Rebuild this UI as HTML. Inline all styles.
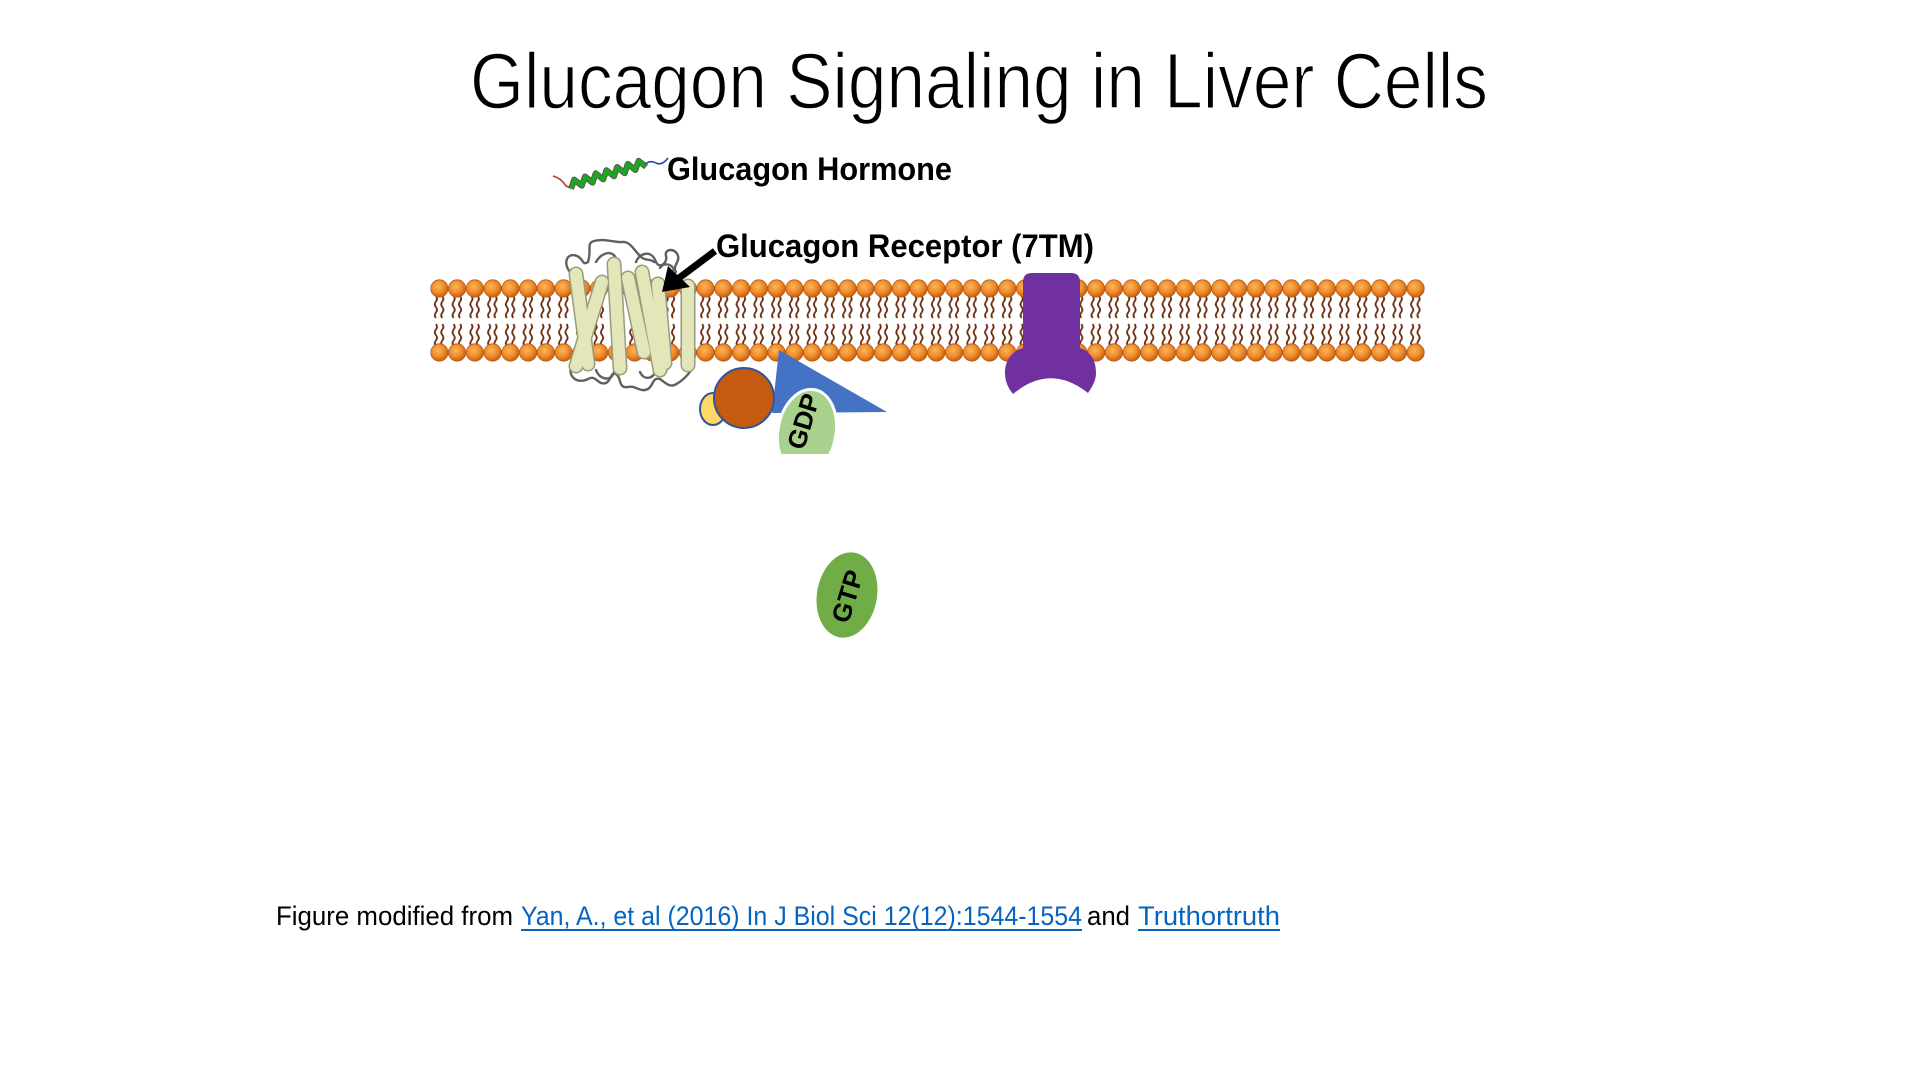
<!DOCTYPE html>
<html>
<head>
<meta charset="utf-8">
<style>
  html,body{margin:0;padding:0;background:#fff;}
  body{width:1920px;height:1080px;overflow:hidden;}
  svg{display:block;}
  text{font-family:"Liberation Sans", sans-serif;}
</style>
</head>
<body>
<svg width="1920" height="1080" viewBox="0 0 1920 1080" xmlns="http://www.w3.org/2000/svg">
  <defs>
    <radialGradient id="hg" cx="0.42" cy="0.38" r="0.62">
      <stop offset="0" stop-color="#FDB55A"/>
      <stop offset="0.6" stop-color="#EE8A2A"/>
      <stop offset="1" stop-color="#C45F14"/>
    </radialGradient>
    <pattern id="lip" x="430.5" y="0" width="17.75" height="1080" patternUnits="userSpaceOnUse">
      <path d="M5.4 296 q2.2 2.75 0 5.5 t0 5.5 t0 5.5 t0 5.5" stroke="#6b2a0c" stroke-width="1.8" fill="none"/>
      <path d="M11.8 296 q2.2 2.75 0 5.5 t0 5.5 t0 5.5 t0 5.5" stroke="#6b2a0c" stroke-width="1.8" fill="none"/>
      <path d="M5.4 324 q2.2 2.75 0 5.5 t0 5.5 t0 5.5 t0 5.5" stroke="#6b2a0c" stroke-width="1.8" fill="none"/>
      <path d="M11.8 324 q2.2 2.75 0 5.5 t0 5.5 t0 5.5 t0 5.5" stroke="#6b2a0c" stroke-width="1.8" fill="none"/>
      <circle cx="8.87" cy="288.5" r="8.7" fill="url(#hg)" stroke="#B85A14" stroke-width="0.8"/>
      <circle cx="8.87" cy="352.5" r="8.7" fill="url(#hg)" stroke="#B85A14" stroke-width="0.8"/>
    </pattern>
    <clipPath id="gdpclip"><rect x="700" y="330" width="200" height="124"/></clipPath>
  </defs>

  <!-- Title -->
  <text x="470" y="108" font-size="79" textLength="1018" lengthAdjust="spacingAndGlyphs" fill="#000" stroke="#fff" stroke-width="1.4">Glucagon Signaling in Liver Cells</text>

  <!-- Hormone -->
  <path d="M553,176 Q561,178 566,186 L571,188" stroke="#b8322a" stroke-width="1.5" fill="none"/>
  <polyline points="571.1,188.8 574.2,179.6 581.8,185.7 585.0,176.5 592.6,182.6 595.7,173.3 603.3,179.4 606.4,170.2 614.0,176.3 617.1,167.0 624.7,173.2 627.8,163.9 635.4,170.0 638.6,160.8 646.1,166.8" stroke="#555" stroke-width="6" fill="none" stroke-linejoin="round"/>
  <polyline points="571.1,188.8 574.2,179.6 581.8,185.7 585.0,176.5 592.6,182.6 595.7,173.3 603.3,179.4 606.4,170.2 614.0,176.3 617.1,167.0 624.7,173.2 627.8,163.9 635.4,170.0 638.6,160.8 646.1,166.8" stroke="#1FA51F" stroke-width="4.2" fill="none" stroke-linejoin="round"/>
  <path d="M645,164 Q651,160 656,163 Q662,166 668,158" stroke="#3340b0" stroke-width="1.6" fill="none"/>
  <text x="667" y="180" font-size="32" font-weight="bold" textLength="285" lengthAdjust="spacingAndGlyphs" fill="#000">Glucagon Hormone</text>

  <!-- Receptor label -->
  <text x="716" y="257" font-size="32" font-weight="bold" textLength="378" lengthAdjust="spacingAndGlyphs" fill="#000">Glucagon Receptor (7TM)</text>

  <!-- Membrane -->
  <rect x="430.5" y="278" width="994" height="84" fill="url(#lip)"/>

  <!-- Receptor (7TM) -->
  <g fill="none" stroke="#606060" stroke-width="2.4" stroke-linecap="round" stroke-linejoin="round">
    <path d="M570,272 C562,262 568,252 577,256 C584,259 582,266 588,262 C592,250 586,243 594,241 C604,238 616,243 622,242 C630,241 634,250 640,256 C646,262 650,258 654,262"/>
    <path d="M596,262 C602,252 612,250 616,258"/>
    <path d="M636,262 C640,252 652,250 656,262 C660,270 668,262 666,256 C664,248 676,248 678,256 C680,262 672,266 676,272"/>
    <path d="M660,268 C664,262 672,264 674,270"/>
    <path d="M571,366 C568,378 578,384 588,379 C596,374 598,386 606,383 C612,380 610,372 616,374 C622,378 618,389 628,387 C636,385 640,393 648,389 C654,385 652,377 660,379 C666,383 670,389 678,383 C686,378 690,372 694,366"/>
    <path d="M596,370 C600,381 612,381 614,372"/>
    <path d="M640,372 C644,381 654,379 656,370"/>
  </g>
  <g stroke-linecap="round">
    <g stroke="#9a9a7c" stroke-width="15">
      <line x1="576" y1="274" x2="588" y2="364"/>
      <line x1="602" y1="282" x2="576" y2="366"/>
      <line x1="614" y1="264" x2="620" y2="368"/>
      <line x1="628" y1="278" x2="644" y2="352"/>
      <line x1="642" y1="272" x2="660" y2="370"/>
      <line x1="658" y1="284" x2="665" y2="363"/>
      <line x1="688" y1="286" x2="688" y2="365"/>
    </g>
    <g stroke="#E2E6B8" stroke-width="12">
      <line x1="576" y1="274" x2="588" y2="364"/>
      <line x1="602" y1="282" x2="576" y2="366"/>
      <line x1="614" y1="264" x2="620" y2="368"/>
      <line x1="628" y1="278" x2="644" y2="352"/>
      <line x1="642" y1="272" x2="660" y2="370"/>
      <line x1="658" y1="284" x2="665" y2="363"/>
      <line x1="688" y1="286" x2="688" y2="365"/>
    </g>
  </g>

  <!-- Arrow -->
  <line x1="715" y1="251" x2="679" y2="278" stroke="#000" stroke-width="7"/>
  <polygon points="662,292 668,266 690,287" fill="#000"/>

  <!-- Purple effector -->
  <path d="M1023,282 Q1023,273 1032,273 L1071,273 Q1080,273 1080,282 L1080,348 C1092,352 1096,362 1096,373 C1096,381 1092,387 1088,393 Q1050,363 1013,394 C1008,388 1005,381 1005,373 C1005,362 1010,352 1023,348 Z" fill="#7030A0"/>

  <!-- G protein -->
  <polygon points="779,350 887,412 772,413" fill="#4472C4"/>
  <ellipse cx="713" cy="409" rx="13" ry="16" fill="#FFD966" stroke="#2F5597" stroke-width="2"/>
  <circle cx="744" cy="398" r="30" fill="#C55A11" stroke="#2F5597" stroke-width="2"/>
  <g clip-path="url(#gdpclip)">
    <ellipse cx="807" cy="432" rx="29" ry="43" transform="rotate(10 807 432)" fill="#A9D18E" stroke="#fff" stroke-width="3"/>
    <text x="0" y="0" font-size="26" font-weight="bold" text-anchor="middle" transform="translate(812 424) rotate(-73)" fill="#000">GDP</text>
  </g>

  <!-- GTP -->
  <ellipse cx="847" cy="595" rx="30" ry="43" transform="rotate(10 847 595)" fill="#70AD47"/>
  <text x="0" y="0" font-size="26" font-weight="bold" text-anchor="middle" transform="translate(856 599) rotate(-73)" fill="#000">GTP</text>

  <!-- Footer -->
  <text x="276" y="925" font-size="27" textLength="237" lengthAdjust="spacingAndGlyphs" fill="#000">Figure modified from</text>
  <text x="521" y="925" font-size="27" textLength="561" lengthAdjust="spacingAndGlyphs" fill="#0563C1">Yan, A., et al (2016) In J Biol Sci 12(12):1544-1554</text>
  <rect x="521" y="929" width="561" height="2" fill="#0563C1"/>
  <text x="1087" y="925" font-size="27" textLength="43" lengthAdjust="spacingAndGlyphs" fill="#000">and</text>
  <text x="1138" y="925" font-size="27" textLength="142" lengthAdjust="spacingAndGlyphs" fill="#0563C1">Truthortruth</text>
  <rect x="1138" y="929" width="142" height="2" fill="#0563C1"/>
</svg>
</body>
</html>
